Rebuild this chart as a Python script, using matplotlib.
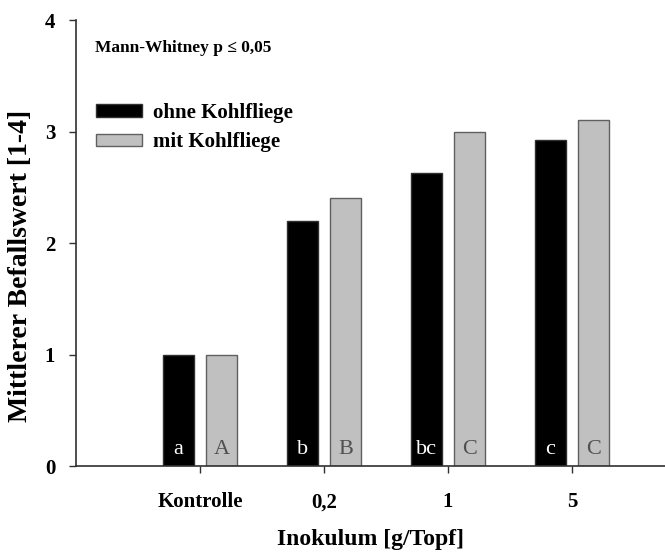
import numpy as np
import matplotlib
matplotlib.use('Agg')
import matplotlib.pyplot as plt

plt.rcParams['font.family'] = ['Liberation Serif', 'DejaVu Serif']

## data
groups = ['Kontrolle', '0,2', '1', '5']
ohne = [1.0, 2.2, 2.63, 2.92]      # ohne Kohlfliege
mit = [1.0, 2.4, 3.0, 3.1]         # mit Kohlfliege
letters_ohne = ['a', 'b', 'bc', 'c']
letters_mit = ['A', 'B', 'C', 'C']
yticks = [0, 1, 2, 3, 4]

fig = plt.figure(figsize=(6.65, 5.53), dpi=100)
ax = fig.add_axes([0.1143, 0.1573, 0.8857, 0.8065])

x = np.arange(len(groups))
w = 0.25
off = 0.173
b1 = ax.bar(x - off, ohne, w, color='black', edgecolor='#303030', linewidth=1, label='ohne Kohlfliege')
b2 = ax.bar(x + off, mit, w, color='#c0c0c0', edgecolor='#606060', linewidth=1, label='mit Kohlfliege')

# significance letters at the foot of each bar
for i in range(len(groups)):
    ax.text(x[i] - off, 0.145, letters_ohne[i], ha='center', va='center', color='white', fontsize=16)
    ax.text(x[i] + off, 0.145, letters_mit[i], ha='center', va='center', color='#505050', fontsize=16)

ax.set_xlim(-1.0, 3.75)
ax.set_ylim(0, 4)
ax.set_xticks(x)
ax.set_xticklabels(groups, fontsize=15, fontweight='bold')
ax.set_yticks(yticks)
ax.set_yticklabels([str(t) for t in yticks], fontsize=15, fontweight='bold')
ax.tick_params(axis='both', direction='out', length=5, width=1, color='#303030')
ax.tick_params(axis='x', pad=14)
ax.tick_params(axis='y', pad=10)

for s in ['top', 'right']:
    ax.spines[s].set_visible(False)
for s in ['left', 'bottom']:
    ax.spines[s].set_linewidth(1.2)
    ax.spines[s].set_color('#303030')

ax.set_ylabel('Mittlerer Befallswert [1-4]', fontsize=20, fontweight='bold')
ax.yaxis.set_label_coords(-43 / 589, 1 - 246 / 446)
ax.set_xlabel('Inokulum [g/Topf]', fontsize=17, fontweight='bold', labelpad=12)

ax.text(95, 553 - 48, 'Mann-Whitney p \u2264 0,05', transform=None, fontsize=12.5,
        fontweight='bold', va='center', ha='left')

fig.legend(handles=[b1, b2], loc='upper left', bbox_to_anchor=(96 / 665, 1 - 103 / 553),
           frameon=False, handlelength=2.2, handleheight=0.55,
           handletextpad=0.55, labelspacing=0.45, borderpad=0, borderaxespad=0,
           prop={'weight': 'bold', 'size': 15})

fig.savefig('out.png', dpi=100)
